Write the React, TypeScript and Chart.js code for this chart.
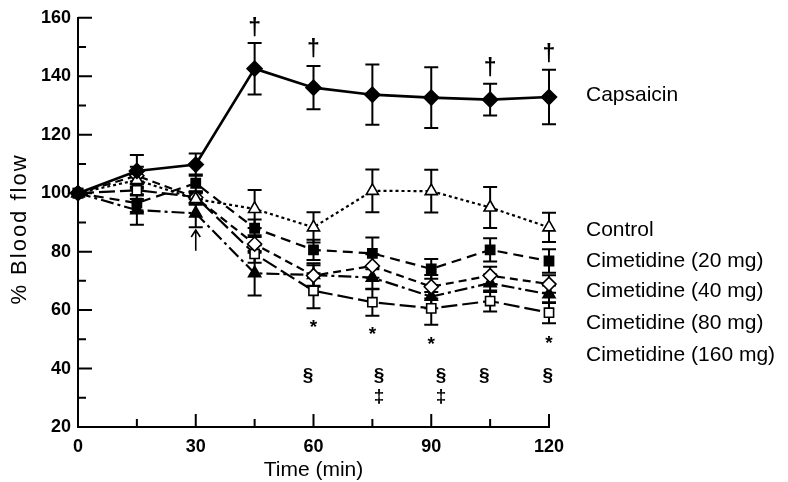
import React, { useEffect, useRef } from 'react';
import { Chart, registerables } from 'chart.js';
Chart.register(...registerables);

const times = [0, 15, 30, 45, 60, 75, 90, 105, 120];

const capsaicin = [100, 107.6, 109.8, 142.6, 136.1, 133.7, 132.7, 132.0, 132.9];
const capsaicinErr = [0, 5.5, 3.8, 8.8, 7.4, 10.3, 10.4, 5.4, 9.3];
const control = [100, 104.5, 98, 94.6, 88.3, 100.8, 100.7, 95.1, 88.3];
const controlErr = [0, 3, 2, 6.5, 5.2, 7.3, 7.3, 7, 5];
const cim20 = [100, 96.6, 103.4, 88.0, 80.6, 79.4, 74.1, 80.6, 76.8];
const cim20Err = [0, 3, 3, 3, 3.5, 5.4, 3.4, 4, 4];
const cim40 = [100, 106, 98.5, 82.6, 71.8, 75.1, 68.0, 71.8, 68.9];
const cim40Err = [0, 3, 2, 3, 3.5, 4, 4, 3, 3];
const cim80 = [100, 94.2, 93.1, 72.6, 72.0, 71.1, 64.6, 69.2, 65.4];
const cim80Err = [0, 5, 4.8, 7.6, 4, 4, 4, 3, 3];
const cim160 = [100, 101, 98.7, 79.2, 66.6, 62.7, 60.6, 63.1, 59.1];
const cim160Err = [0, 3, 2, 3, 6, 4.6, 5.6, 3.6, 3.6];

const seriesNames = ['Capsaicin', 'Control', 'Cimetidine (20 mg)', 'Cimetidine (40 mg)', 'Cimetidine (80 mg)', 'Cimetidine (160 mg)'];
const seriesLabelY = [133.5, 87.4, 76.6, 66.3, 55.5, 44.7];

const xMajorTicks = [0, 30, 60, 90, 120];
const xMinorTicks = [15, 45, 75, 105];
const yMajorTicks = [20, 40, 60, 80, 100, 120, 140, 160];
const yMinorTicks = [30, 50, 70, 90, 110, 130, 150];

const daggerX = [45, 60, 105, 120];
const daggerY = [156.3, 149.2, 142.7, 147.5];
const starX = [60, 75, 90, 120];
const starY = [55, 52.6, 49.2, 49.6];
const sectionX = [58.6, 76.7, 92.5, 103.5, 119.7];
const sectionY = 37.5;
const ddaggerX = [76.7, 92.5];
const ddaggerY = 30.5;
const arrowX = 30;
const arrowFrom = 80.3;
const arrowTo = 87.4;

const xTitle = 'Time (min)';
const yTitle = '% Blood flow';

export default function App() {
  const ref = useRef<HTMLCanvasElement>(null);
  useEffect(() => {
    document.body.style.margin = '0';
    const canvas = ref.current!;
    const mk = (label: string, data: number[], err: number[], style: string, fill: string, radius: number, dash: number[], width = 2.2) => ({
      label,
      data: times.map((t, i) => ({ x: t, y: data[i] })),
      err,
      borderColor: '#000',
      borderWidth: width,
      borderDash: dash,
      pointStyle: style,
      pointRadius: radius,
      pointHoverRadius: radius,
      pointBackgroundColor: fill,
      pointBorderColor: '#000',
      pointBorderWidth: 1.6,
      fill: false,
      tension: 0,
      clip: false,
    });
    const datasets: any[] = [
      mk(seriesNames[0], capsaicin, capsaicinErr, 'rectRot', '#000', 7.5, [], 2.6),
      mk(seriesNames[1], control, controlErr, 'triangle', '#fff', 7, [3, 3]),
      mk(seriesNames[2], cim20, cim20Err, 'rect', '#000', 6.5, [10, 6]),
      mk(seriesNames[3], cim40, cim40Err, 'rectRot', '#fff', 7, [8, 5]),
      mk(seriesNames[4], cim80, cim80Err, 'triangle', '#000', 7, [13, 4, 3, 4]),
      mk(seriesNames[5], cim160, cim160Err, 'rect', '#fff', 6.5, [16, 5]),
    ];

    const errorBars = {
      id: 'errorBars',
      beforeDatasetsDraw(chart: any) {
        const c = chart.ctx;
        const ys = chart.scales.y;
        c.save();
        c.strokeStyle = '#000';
        c.lineWidth = 2;
        c.setLineDash([]);
        chart.data.datasets.forEach((ds: any, i: number) => {
          const meta = chart.getDatasetMeta(i);
          ds.err.forEach((e: number, j: number) => {
            if (!e) return;
            const x = meta.data[j].x;
            const v = ds.data[j].y;
            const yt = ys.getPixelForValue(v + e);
            const yb = ys.getPixelForValue(v - e);
            c.beginPath();
            c.moveTo(x, yt); c.lineTo(x, yb);
            c.moveTo(x - 7, yt); c.lineTo(x + 7, yt);
            c.moveTo(x - 7, yb); c.lineTo(x + 7, yb);
            c.stroke();
          });
        });
        c.restore();
      },
    };

    const decor = {
      id: 'decor',
      afterDraw(chart: any) {
        const c = chart.ctx;
        const xs = chart.scales.x;
        const ys = chart.scales.y;
        const a = chart.chartArea;
        c.save();
        c.strokeStyle = '#000';
        c.fillStyle = '#000';
        c.lineWidth = 2;
        c.setLineDash([]);
        // inward ticks
        c.beginPath();
        yMajorTicks.forEach((v) => { const y = ys.getPixelForValue(v); c.moveTo(a.left, y); c.lineTo(a.left + 14, y); });
        yMinorTicks.forEach((v) => { const y = ys.getPixelForValue(v); c.moveTo(a.left, y); c.lineTo(a.left + 8, y); });
        xMajorTicks.forEach((v) => { const x = xs.getPixelForValue(v); c.moveTo(x, a.bottom); c.lineTo(x, a.bottom - 13); });
        xMinorTicks.forEach((v) => { const x = xs.getPixelForValue(v); c.moveTo(x, a.bottom); c.lineTo(x, a.bottom - 8); });
        c.stroke();

        // series labels
        c.font = '21px "Liberation Sans", Arial, sans-serif';
        c.textAlign = 'left';
        c.textBaseline = 'middle';
        seriesNames.forEach((n, i) => c.fillText(n, a.right + 37, ys.getPixelForValue(seriesLabelY[i])));

        // axis titles
        c.textAlign = 'center';
        c.fillText(xTitle, (a.left + a.right) / 2, 470);
        c.save();
        c.translate(20, 229);
        c.rotate(-Math.PI / 2);
        c.font = '22px "Liberation Sans", Arial, sans-serif';
        (c as any).letterSpacing = '2px';
        c.fillText(yTitle, 0, 0);
        c.restore();

        // significance symbols
        c.font = 'bold 23px "Liberation Sans", Arial, sans-serif';
        daggerX.forEach((x, i) => c.fillText('\u2020', xs.getPixelForValue(x), ys.getPixelForValue(daggerY[i])));
        c.font = 'bold 19px "Liberation Sans", Arial, sans-serif';
        starX.forEach((x, i) => c.fillText('*', xs.getPixelForValue(x), ys.getPixelForValue(starY[i]) + 3));
        sectionX.forEach((x) => c.fillText('\u00a7', xs.getPixelForValue(x), ys.getPixelForValue(sectionY)));
        ddaggerX.forEach((x) => c.fillText('\u2021', xs.getPixelForValue(x), ys.getPixelForValue(ddaggerY)));

        // arrow
        const ax = xs.getPixelForValue(arrowX);
        const y1 = ys.getPixelForValue(arrowFrom);
        const y2 = ys.getPixelForValue(arrowTo);
        c.lineWidth = 1.6;
        c.beginPath();
        c.moveTo(ax, y1); c.lineTo(ax, y2);
        c.moveTo(ax - 4.5, y2 + 7); c.lineTo(ax, y2); c.lineTo(ax + 4.5, y2 + 7);
        c.stroke();
        c.restore();
      },
    };

    const chart = new Chart(canvas, {
      type: 'line',
      data: { datasets },
      plugins: [errorBars, decor],
      options: {
        responsive: false,
        animation: false,
        events: [],
        layout: { padding: { left: 0, right: 239, top: 17, bottom: 0 } },
        plugins: { legend: { display: false }, tooltip: { enabled: false } },
        scales: {
          x: {
            type: 'linear',
            min: 0,
            max: 120,
            afterFit(s: any) { s.height = 55; },
            afterBuildTicks(s: any) { s.ticks = xMajorTicks.map((v) => ({ value: v })); },
            grid: { display: false, drawTicks: false },
            border: { display: true, color: '#000', width: 2 },
            ticks: { color: '#000', padding: 9, maxRotation: 0, font: { family: '"Liberation Sans", Arial, sans-serif', size: 18, weight: 'bold' } },
          },
          y: {
            type: 'linear',
            min: 20,
            max: 160,
            afterFit(s: any) { s.width = 78; },
            afterBuildTicks(s: any) { s.ticks = yMajorTicks.map((v) => ({ value: v })); },
            grid: { display: false, drawTicks: false },
            border: { display: true, color: '#000', width: 2 },
            ticks: { color: '#000', padding: 7, font: { family: '"Liberation Sans", Arial, sans-serif', size: 18, weight: 'bold' } },
          },
        },
      } as any,
    });
    return () => chart.destroy();
  }, []);
  return (
    <div style={{ width: 788, height: 482, position: 'relative', background: '#fff' }}>
      <canvas ref={ref} width={788} height={482} style={{ display: 'block' }} />
    </div>
  );
}
